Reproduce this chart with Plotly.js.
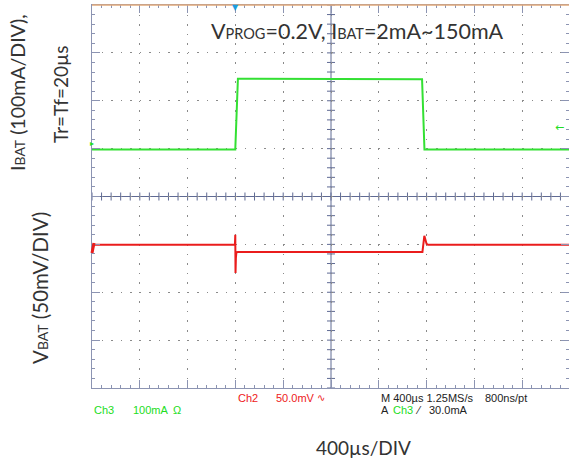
<!DOCTYPE html>
<html><head><meta charset="utf-8">
<script src="https://cdn.plot.ly/plotly-3.0.1.min.js"></script>
<style>html,body{margin:0;padding:0;background:#fff;}#plot{width:569px;height:463px;}</style>
</head><body><div id="plot"></div>
<script>
// ---- data (time in µs, 400 µs/div) ----
const ibatTime = [0, 1199, 1221, 2000, 2762, 2782, 3992];
const ibatMA   = [2, 2, 150, 149.5, 149, 2, 2];           // I_BAT, mA (100 mA/div)
const vbatTime = [0, 1196, 1199, 1201, 1204, 1208, 1220, 2000, 2765, 2781, 2800, 2812, 3992];
const vbatMV   = [0, 0, 10.5, -29.5, -14, -8, -7.5, -7.5, -7.5, 9.5, 1, 0, 0]; // ΔV_BAT, mV (50 mV/div)

const W = 569, H = 463, L = 92, T = 5, B = 75, R = 0;
const PW = W - L - R, PH = H - T - B;
const px = x => (x - L) / PW;
const py = y => (H - B - y) / PH;
const divPx = 47.8, usPerDiv = 400;
const xMax = PW / divPx * usPerDiv;

const gridCol = '#8a8a8a', edgeCol = '#8c94b2', ctrCol = '#5f6a94';

const traces = [
  {x: ibatTime, y: ibatMA, type: 'scatter', mode: 'lines', yaxis: 'y',
   line: {color: '#33e033', width: 2}, hoverinfo: 'skip'},
  {x: vbatTime, y: vbatMV, type: 'scatter', mode: 'lines', yaxis: 'y2',
   line: {color: '#ea1c1c', width: 2}, hoverinfo: 'skip'}
];

// decorative shapes: center cross lines with ticks, top orange border, channel markers
const shapes = [];
shapes.push({type:'line', xref:'x', yref:'paper', x0:2000, x1:2000, y0:0, y1:1, line:{color:ctrCol, width:1}, layer:'below'});
shapes.push({type:'line', xref:'paper', yref:'paper', x0:0, x1:1, y0:0.5, y1:0.5, line:{color:ctrCol, width:1}, layer:'below'});
for (let i = 0; i <= 50; i++) {
  shapes.push({type:'line', xref:'x', yref:'paper', ysizemode:'pixel', yanchor:0.5,
    x0:i*80, x1:i*80, y0:-4, y1:4, line:{color:ctrCol, width:1}, layer:'below'});
}
for (let i = 0; i <= 40; i++) {
  shapes.push({type:'line', xref:'x', yref:'paper', xsizemode:'pixel', xanchor:2000,
    x0:-4, x1:4, y0:i/40, y1:i/40, line:{color:ctrCol, width:1}, layer:'below'});
}
shapes.push({type:'line', xref:'paper', yref:'paper', x0:0, x1:1, y0:1, y1:1, line:{color:'#e0a878', width:1.5}});
// channel ground marker on left edge
shapes.push({type:'line', xref:'paper', yref:'paper', xsizemode:'pixel', xanchor:0, x0:0, x1:2,
  y0:py(253), y1:py(243), line:{color:'#ea1c1c', width:3}});

function ann(text, x, y, opts) {
  return Object.assign({text: text, x: px(x), y: py(y), xref:'paper', yref:'paper',
    showarrow:false, xanchor:'left', yanchor:'middle',
    font:{family:'Liberation Sans, Arial, sans-serif', size:11, color:'#222'}}, opts || {});
}
const green = '#22dd22', red = '#ee2020';
const sm = (s, f) => '<span style="font-size:' + f + 'px">' + s + '</span>';
const big = {family:'Lato, sans-serif', size:19.5, color:'#333'};
const annotations = [
  ann('V' + sm('PROG', 14.5) + '=0.2V, I' + sm('BAT', 14.5) + '=2mA~150mA', 209, 31,
      {font:{family:'Lato, sans-serif', size:21.5, color:'#333'}}),
  ann('I' + sm('BAT', 14) + ' (100mA/DIV),', 17, 93,
      {textangle:-90, xanchor:'center', font:big}),
  ann('Tr=Tf=20µs', 60, 94,
      {textangle:-90, xanchor:'center', font:{family:'Lato, sans-serif', size:19, color:'#333'}}),
  ann('V' + sm('BAT', 14) + ' (50mV/DIV)', 40, 288,
      {textangle:-90, xanchor:'center', font:{family:'Lato, sans-serif', size:20.5, color:'#333'}}),
  ann('400µs/DIV', 363, 447,
      {xanchor:'center', font:{family:'Lato, sans-serif', size:19, color:'#333'}}),
  ann('Ch2', 236, 398, {font:{family:'Liberation Sans, Arial, sans-serif', size:11, color:red}}),
  ann('50.0mV', 274, 398, {font:{family:'Liberation Sans, Arial, sans-serif', size:11, color:red}}),
  ann('∿', 315, 398, {font:{family:'DejaVu Sans, sans-serif', size:10, color:red}}),
  ann('M 400µs 1.25MS/s', 379, 398),
  ann('800ns/pt', 483, 398),
  ann('Ch3', 92, 410, {font:{family:'Liberation Sans, Arial, sans-serif', size:11, color:green}}),
  ann('100mA', 131, 410, {font:{family:'Liberation Sans, Arial, sans-serif', size:11, color:green}}),
  ann('Ω', 171, 410, {font:{family:'Liberation Sans, Arial, sans-serif', size:11, color:green}}),
  ann('A', 379, 410),
  ann('Ch3', 391, 410, {font:{family:'Liberation Sans, Arial, sans-serif', size:11, color:green}}),
  ann('⁄', 413, 410),
  ann('30.0mA', 427, 410),
  ann('▼', 235, 1, {xanchor:'center', yanchor:'top', font:{family:'DejaVu Sans, sans-serif', size:8, color:'#1a9ee0'}}),
  ann('▸', 88, 143, {font:{family:'DejaVu Sans, sans-serif', size:8, color:green}}),
  ann('←', 553, 127, {font:{family:'DejaVu Sans, sans-serif', size:11, color:green}})
];

const layout = {
  width: W, height: H, margin: {l: L, r: R, t: T, b: B, pad: 0},
  paper_bgcolor: '#fff', plot_bgcolor: '#fff', showlegend: false,
  xaxis: {range: [0, xMax], tick0: 0, dtick: usPerDiv, showgrid: true, gridcolor: gridCol,
    griddash: '1.5px,8.06px', gridwidth: 1, zeroline: false, showline: true, linecolor: edgeCol,
    mirror: 'ticks', ticks: 'inside', ticklen: 8, tickcolor: edgeCol, showticklabels: false,
    minor: {dtick: 80, tick0: 0, ticks: 'inside', ticklen: 3, tickcolor: edgeCol, showgrid: false},
    fixedrange: true},
  yaxis: {range: [-496, 304], tick0: -96, dtick: 100, showgrid: true, gridcolor: gridCol,
    griddash: '1.5px,8.06px', gridwidth: 1, zeroline: false, showline: true, linecolor: edgeCol,
    mirror: 'ticks', ticks: 'inside', ticklen: 8, tickcolor: edgeCol, showticklabels: false,
    minor: {dtick: 20, tick0: -96, ticks: 'inside', ticklen: 3, tickcolor: edgeCol, showgrid: false},
    fixedrange: true},
  yaxis2: {range: [-149.5, 250.5], overlaying: 'y', side: 'right', showgrid: false, zeroline: false,
    showticklabels: false, ticks: '', showline: false, fixedrange: true},
  shapes: shapes, annotations: annotations
};
Plotly.newPlot('plot', traces, layout, {staticPlot: true, displayModeBar: false});
</script></body></html>
